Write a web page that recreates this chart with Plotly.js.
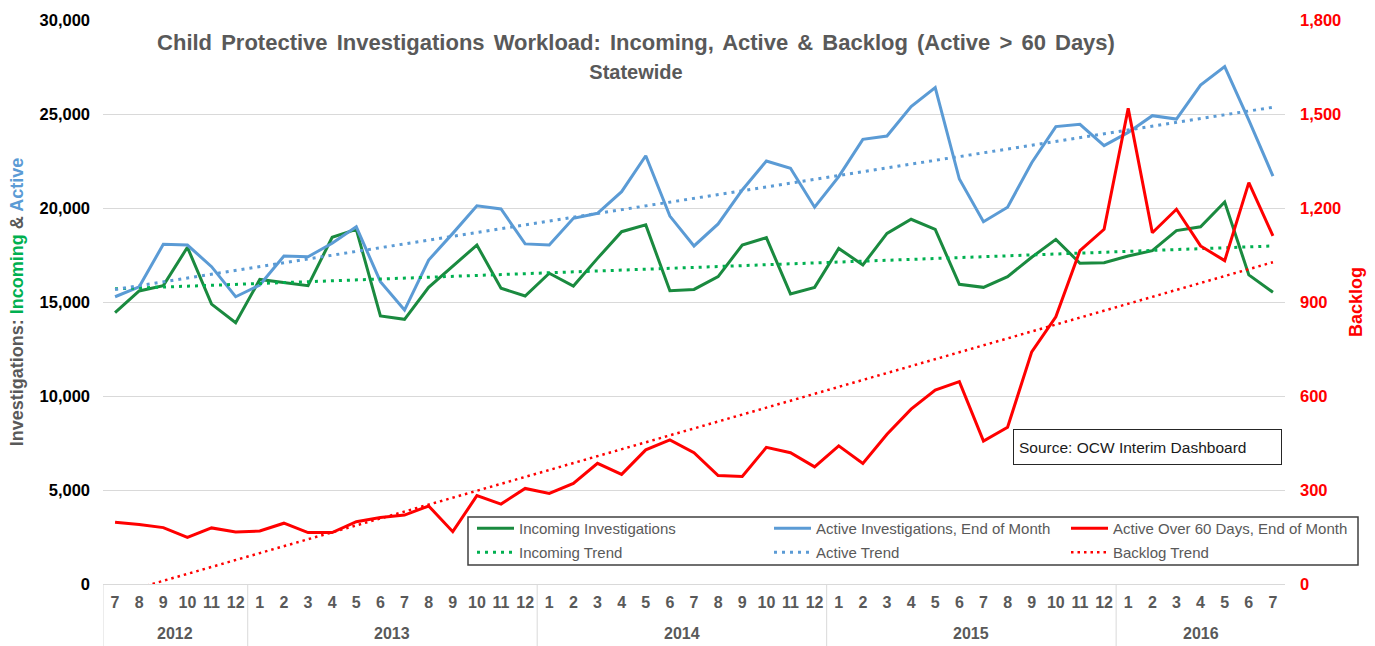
<!DOCTYPE html>
<html>
<head>
<meta charset="utf-8">
<script src="https://cdn.plot.ly/plotly-3.0.1.min.js"></script>
<style>
  html, body { margin: 0; padding: 0; background: #ffffff; }
  #chart { width: 1375px; height: 646px; }
  #chart .gtitle { word-spacing: 3px; }
</style>
</head>
<body>
<div id="chart"></div>
<script>
// ---- data ----
const years = ['2012','2012','2012','2012','2012','2012',
  '2013','2013','2013','2013','2013','2013','2013','2013','2013','2013','2013','2013',
  '2014','2014','2014','2014','2014','2014','2014','2014','2014','2014','2014','2014',
  '2015','2015','2015','2015','2015','2015','2015','2015','2015','2015','2015','2015',
  '2016','2016','2016','2016','2016','2016','2016'];
const months = ['7','8','9','10','11','12',
  '1','2','3','4','5','6','7','8','9','10','11','12',
  '1','2','3','4','5','6','7','8','9','10','11','12',
  '1','2','3','4','5','6','7','8','9','10','11','12',
  '1','2','3','4','5','6','7'];

const incoming = [14430, 15590, 15870, 17910, 14890, 13900,
  16200, 16030, 15870, 18440, 18860, 14260, 14080, 15780, 16880, 18030, 15730, 15320,
  16530, 15850, 17320, 18740, 19100, 15600, 15670, 16350, 18030, 18420, 15430, 15780,
  17850, 16970, 18650, 19400, 18860, 15940, 15780, 16350, 17380, 18330, 17060, 17090,
  17450, 17730, 18800, 19000, 20320, 16440, 15520];
const active = [15280, 15810, 18070, 18030, 16880, 15280,
  15900, 17450, 17410, 18120, 19000, 16080, 14570, 17230, 18650, 20120, 19950, 18090,
  18030, 19450, 19720, 20870, 22780, 19570, 17980, 19150, 20960, 22500, 22110, 20040,
  21670, 23650, 23830, 25390, 26400, 21540, 19270, 20040, 22410, 24330, 24450, 23320,
  24020, 24910, 24730, 26540, 27520, 24680, 21700];
const backlog = [197, 190, 180, 149, 179, 166,
  169, 194, 164, 164, 199, 212, 220, 249, 167, 282, 255, 305,
  289, 321, 385, 350, 428, 460, 419, 346, 343, 436, 419, 374,
  441, 385, 478, 558, 619, 646, 456, 500, 741, 853, 1064, 1132,
  1518, 1121, 1196, 1079, 1032, 1281, 1111];

// trend lines: value read at the first and last month
const incomingTrend = [15700, 17980];
const activeTrend = [15670, 25360];
const backlogTrend = [-34, 1027];

const seriesNames = ['Incoming Investigations', 'Active Investigations, End of Month',
  'Active Over 60 Days, End of Month', 'Incoming Trend', 'Active Trend', 'Backlog Trend'];

// ---- build ----
const cats = years.map((y, i) => y + '-' + months[i]);
const ends = [cats[0], cats[cats.length - 1]];

const GREEN = '#1a8a3f', GREEN_T = '#00b050', BLUE = '#5b9bd5', RED = '#ff0000';
const GRAY = '#595959';
const FONT = 'Liberation Sans, Arial, sans-serif';

const traces = [
  {x: cats, y: incoming, name: seriesNames[0], type: 'scatter', mode: 'lines',
   line: {color: GREEN, width: 3}, yaxis: 'y', legend: 'legend'},
  {x: cats, y: active, name: seriesNames[1], type: 'scatter', mode: 'lines',
   line: {color: BLUE, width: 3}, yaxis: 'y', legend: 'legend'},
  {x: cats, y: backlog, name: seriesNames[2], type: 'scatter', mode: 'lines',
   line: {color: RED, width: 3}, yaxis: 'y2', legend: 'legend'},
  {x: ends, y: incomingTrend, name: seriesNames[3], type: 'scatter', mode: 'lines',
   line: {color: GREEN_T, width: 3, dash: '3px,5px'}, yaxis: 'y', legend: 'legend2'},
  {x: ends, y: activeTrend, name: seriesNames[4], type: 'scatter', mode: 'lines',
   line: {color: BLUE, width: 3, dash: '3px,5px'}, yaxis: 'y', legend: 'legend2'},
  {x: ends, y: backlogTrend, name: seriesNames[5], type: 'scatter', mode: 'lines',
   line: {color: RED, width: 2.5, dash: '2.5px,4px'}, yaxis: 'y2', legend: 'legend2'}
];

// year group labels & dividers, derived from the years array
const annotations = [];
const shapes = [];
const groups = [];
years.forEach((y, i) => {
  if (!groups.length || groups[groups.length - 1].y !== y) groups.push({y: y, s: i, e: i});
  else groups[groups.length - 1].e = i;
});
groups.forEach(g => {
  annotations.push({x: (g.s + g.e) / 2, xref: 'x', y: -0.087, yref: 'paper',
    text: g.y, showarrow: false, xanchor: 'center', yanchor: 'middle',
    font: {family: FONT, size: 16, color: GRAY, weight: 'bold'}});
  shapes.push({type: 'line', xref: 'x', yref: 'paper', x0: g.s - 0.5, x1: g.s - 0.5,
    y0: 0, y1: -0.11, line: {color: '#d9d9d9', width: 1}});
});

// legend frame
const PW = 1182, PH = 564, PL = 103, PB = 584;
shapes.push({type: 'rect', xref: 'paper', yref: 'paper', layer: 'between',
  x0: (468 - PL) / PW, x1: (1358 - PL) / PW, y0: (PB - 565) / PH, y1: (PB - 517) / PH,
  line: {color: '#404040', width: 1.5}, fillcolor: '#ffffff'});

annotations.push({
  x: (1013 - PL) / PW, xref: 'paper', y: (PB - 429) / PH, yref: 'paper',
  xanchor: 'left', yanchor: 'top', showarrow: false, align: 'left',
  width: 257, height: 24, borderpad: 5, bordercolor: '#262626', borderwidth: 1,
  bgcolor: '#ffffff', text: 'Source: OCW Interim Dashboard',
  font: {family: FONT, size: 15.5, color: '#1a1a1a'}
});

const legendBase = {
  orientation: 'h', xanchor: 'left', yanchor: 'top',
  borderwidth: 0, bgcolor: 'rgba(0,0,0,0)',
  font: {family: FONT, size: 15, color: GRAY},
  entrywidth: 245, entrywidthmode: 'pixels', itemwidth: 37, traceorder: 'normal'
};

const layout = {
  width: 1375, height: 646,
  paper_bgcolor: '#ffffff', plot_bgcolor: '#ffffff',
  margin: {l: PL, r: 90, t: 20, b: 62},
  font: {family: FONT, color: GRAY},
  title: {
    text: 'Child Protective Investigations Workload: Incoming, Active & Backlog (Active > 60 Days)<br><span style="font-size:20px">Statewide</span>',
    font: {family: FONT, size: 22, color: GRAY, weight: 'bold'},
    x: 636 / 1375, xanchor: 'center', y: 1 - 50 / 646, yanchor: 'top'
  },
  showlegend: true,
  legend: Object.assign({}, legendBase, {x: (472 - PL) / PW, y: (PB - 512) / PH}),
  legend2: Object.assign({}, legendBase, {x: (472 - PL) / PW, y: (PB - 536) / PH}),
  xaxis: {
    type: 'category', range: [-0.5, cats.length - 0.5],
    tickmode: 'array', tickvals: cats, ticktext: months,
    tickfont: {family: FONT, size: 16, color: GRAY, weight: 'bold'},
    showgrid: false, zeroline: false, showline: true, linecolor: '#d9d9d9', linewidth: 1,
    ticks: '', ticklabelstandoff: 4, fixedrange: true
  },
  yaxis: {
    range: [0, 30000], dtick: 5000, tickformat: ',',
    tickfont: {family: FONT, size: 16.5, color: '#000000', weight: 'bold'},
    showgrid: true, gridcolor: '#d9d9d9', gridwidth: 1, zeroline: false,
    ticks: '', ticklabelstandoff: 12, showline: false,
    title: {
      text: 'Investigations: <span style="color:#00b050">Incoming</span> &amp; <span style="color:#5b9bd5">Active</span>',
      font: {family: FONT, size: 18, color: GRAY, weight: 'bold'}, standoff: 11
    }
  },
  yaxis2: {
    overlaying: 'y', side: 'right', range: [0, 1800], dtick: 300, tickformat: ',',
    tickfont: {family: FONT, size: 16.5, color: RED, weight: 'bold'},
    showgrid: false, zeroline: false, ticks: '', ticklabelstandoff: 14,
    title: {text: 'Backlog', font: {family: FONT, size: 18, color: RED, weight: 'bold'}, standoff: 9}
  },
  annotations: annotations,
  shapes: shapes
};

Plotly.newPlot('chart', traces, layout, {displayModeBar: false, staticPlot: true});
</script>
</body>
</html>
